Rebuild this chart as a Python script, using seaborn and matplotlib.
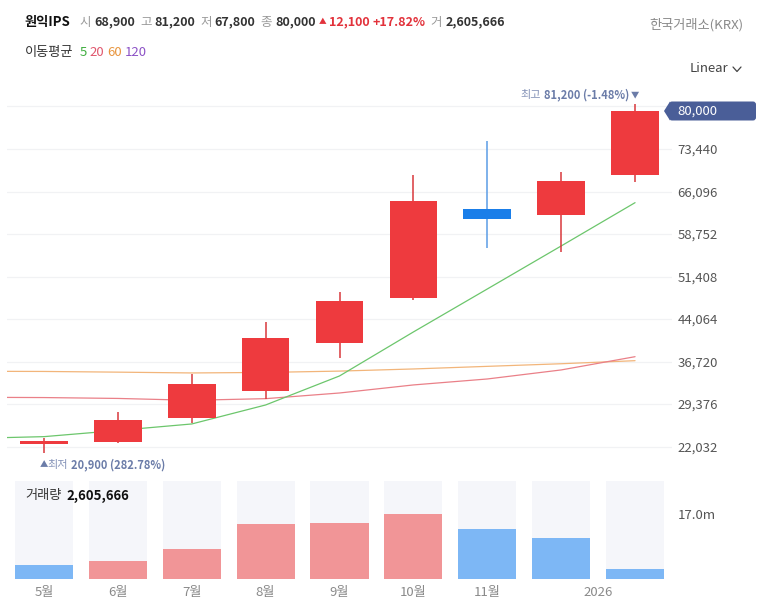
import numpy as np
import pandas as pd
import matplotlib
matplotlib.use("Agg")
import matplotlib.pyplot as plt
import matplotlib.transforms as mtransforms
from matplotlib.patches import Polygon, FancyBboxPatch
from matplotlib.lines import Line2D
import seaborn as sns

# ---------------- data ----------------
month_labels = ["5월", "6월", "7월", "8월", "9월", "10월", "11월"]
year_label = "2026"
opens = [22500, 22900, 27050, 31700, 40000, 47700, 63100, 62000, 68900]
highs = [23600, 28000, 34600, 43500, 48800, 68950, 74750, 69500, 81200]
lows = [20900, 22600, 26100, 30200, 37300, 47350, 56300, 55600, 67800]
closes = [23000, 26650, 32900, 40850, 47200, 64450, 61400, 67900, 80000]
volumes = [3.74e6, 4.71e6, 8.0e6, 14.46e6, 14.8e6, 17.0e6, 13.23e6, 10.88e6, 2605666]
volume_dir = ["down", "up", "up", "up", "up", "up", "down", "down", "down"]

# moving averages (first point = previous month, partly off-chart)
ma5 = [23450, 23760, 24830, 25950, 29230, 34240, 41840, 49260, 56690, 64170]
ma20 = [30560, 30510, 30360, 30040, 30320, 31300, 32690, 33720, 35280, 37570]
ma60 = [35050, 35020, 34900, 34760, 34850, 35080, 35450, 35900, 36350, 36880]

price_ticks = [22032, 29376, 36720, 44064, 51408, 58752, 66096, 73440, 80784]
price_tick_labels = ["22,032", "29,376", "36,720", "44,064", "51,408", "58,752",
                     "66,096", "73,440", ""]
vol_ticks = [17.0e6]
vol_tick_labels = ["17.0m"]

# ---------------- style ----------------
sns.set_theme(style="white")
plt.rcParams["font.family"] = ["Noto Sans CJK KR", "DejaVu Sans"]

W, H = 763, 616
fig = plt.figure(figsize=(W / 100, H / 100), dpi=100)
fig.patch.set_facecolor("white")
renderer = fig.canvas.get_renderer()


def px_axes(left, top, right, bottom):
    return fig.add_axes([left / W, 1 - bottom / H, (right - left) / W, (bottom - top) / H])


RED = "#ee3a3e"
RED_WICK = "#d9383c"
BLUE = "#1a7ee9"
BLUE_WICK = "#5b9de6"
VOL_RED = "#f19597"
VOL_BLUE = "#7db7f5"
COL_BG = "#f5f6fa"
ANN_DARK = "#6b7ca8"
ANN_LIGHT = "#8593b8"

n = len(opens)
x = np.arange(n)


def ftext(xp, yp, s, **kw):
    return fig.text(xp / W, 1 - yp / H, s, va="center", ha=kw.pop("ha", "left"), **kw)


def chain(x0, yp, pieces):
    """pieces: list of (gap_before_px, text, props)"""
    xp = x0
    for gap, s, props in pieces:
        xp += gap
        t = ftext(xp, yp, s, **props)
        bb = t.get_window_extent(renderer=renderer)
        xp = bb.x1
    return xp


# ---------------- price panel ----------------
ax = px_axes(7, 100, 672, 470)
ax.set_xlim(-0.5, n - 0.5)
ax.set_ylim(18000, 81900)
for s in ax.spines.values():
    s.set_visible(False)

for t in price_ticks:
    ax.axhline(t, color="#f1f2f4", lw=0.9, zorder=0)

ma_x = np.arange(-1, n)
sns.lineplot(x=ma_x, y=ma60, ax=ax, color="#f2b57a", lw=0.9, zorder=2)
sns.lineplot(x=ma_x, y=ma20, ax=ax, color="#ea8088", lw=0.9, zorder=2)
sns.lineplot(x=ma_x, y=ma5, ax=ax, color="#6cc66c", lw=0.9, zorder=2)

for i in range(n):
    up = closes[i] >= opens[i]
    body_c = RED if up else BLUE
    wick_c = RED_WICK if up else BLUE_WICK
    ax.vlines(x[i], lows[i], highs[i], color=wick_c, lw=1.1, zorder=3)
    lo, hi = min(opens[i], closes[i]), max(opens[i], closes[i])
    ax.bar(x[i], hi - lo, bottom=lo, width=0.645, color=body_c, zorder=4, linewidth=0)

ax.set_xticks([])
ax.yaxis.tick_right()
ax.set_yticks(price_ticks)
ax.set_yticklabels(price_tick_labels)
ax.tick_params(axis="y", length=0, pad=4, labelsize=9.5, labelcolor="#555555")
ax.set_ylabel("")
ax.set_xlabel("")

# ---------------- volume panel ----------------
axv = px_axes(7, 481, 672, 579.3)
vol_top = 25.7e6
axv.bar(x, [vol_top] * n, width=0.785, color=COL_BG, zorder=0, linewidth=0)
vdf = pd.DataFrame({"idx": x, "vol": volumes, "dir": volume_dir})
sns.barplot(data=vdf, x="idx", y="vol", hue="dir", palette={"up": VOL_RED, "down": VOL_BLUE},
            dodge=False, width=0.785, saturation=1, legend=False, ax=axv, zorder=2,
            linewidth=0)
axv.set_xlim(-0.5, n - 0.5)
axv.set_ylim(0, vol_top)
for s in axv.spines.values():
    s.set_visible(False)
axv.set_xticks(list(range(len(month_labels))) + [7.5])
axv.set_xticklabels(month_labels + [year_label])
axv.tick_params(axis="x", length=0, pad=5, labelsize=9.5, labelcolor="#8a8a8a")
axv.yaxis.tick_right()
axv.set_yticks(vol_ticks)
axv.set_yticklabels(vol_tick_labels)
axv.tick_params(axis="y", length=0, pad=4, labelsize=9.5, labelcolor="#555555")
axv.set_xlabel("")
axv.set_ylabel("")

fig.canvas.draw()

# volume caption
chain(25, 495.7, [
    (0, "거래량", dict(fontsize=9.5, color="#333333")),
    (5, f"{volumes[-1]:,}", dict(fontsize=9.5, color="#111111", fontweight="bold")),
])

# ---------------- high / low annotations ----------------
ihi = int(np.argmax(highs))
ilo = int(np.argmin(lows))
last = closes[-1]
hi_pct = (last - highs[ihi]) / highs[ihi] * 100
lo_pct = (last - lows[ilo]) / lows[ilo] * 100

hx, hy = ax.transData.transform((x[ihi], highs[ihi]))
hy_top = H - hy - 9.5
ftext(hx, hy_top, "▼", fontsize=6, color=ANN_DARK, ha="center")
num_hi = ftext(hx - 6, hy_top, f"{highs[ihi]:,} ({hi_pct:.2f}%)", fontsize=8,
               color=ANN_DARK, fontweight="bold", ha="right")
bb = num_hi.get_window_extent(renderer=renderer)
ftext(bb.x0 - 3, hy_top, "최고", fontsize=8, color=ANN_LIGHT, ha="right")

lx, ly = ax.transData.transform((x[ilo], lows[ilo]))
ly_bot = H - ly + 11.5
ftext(lx, ly_bot, "▲", fontsize=6, color=ANN_DARK, ha="center")
chain(lx + 3, ly_bot, [
    (0, "최저", dict(fontsize=8, color=ANN_LIGHT)),
    (4, f"{lows[ilo]:,} ({lo_pct:.2f}%)", dict(fontsize=8, color=ANN_DARK,
                                               fontweight="bold")),
])

# ---------------- current price tag ----------------
yc = ax.transData.transform((0, closes[-1]))[1]
hh = 9.5
tag_col = "#4a5e98"
tri = Polygon([(664, yc), (670, yc + hh), (670, yc - hh)], closed=True,
              facecolor=tag_col, edgecolor="none", transform=mtransforms.IdentityTransform())
box = FancyBboxPatch((669, yc - hh), 87, 2 * hh, boxstyle="round,pad=0,rounding_size=3",
                     facecolor=tag_col, edgecolor="none",
                     transform=mtransforms.IdentityTransform())
fig.patches.extend([box, tri])
fig.text(677 / W, yc / H, f"{closes[-1]:,}", ha="left", va="center", fontsize=9.5,
         color="white")

# ---------------- header ----------------
HY = 22.3
GRAY = "#9a9a9a"
NUM = "#333333"
HRED = "#e2323b"
lab = dict(fontsize=9, color=GRAY)
num = dict(fontsize=9, color=NUM, fontweight="bold")
red = dict(fontsize=9, color=HRED, fontweight="bold")
chg = closes[-1] - closes[-2]
chain(25, HY, [
    (0, "원익IPS", dict(fontsize=9.5, fontweight="bold", color="#111111")),
    (9, "시", lab), (3, f"{opens[-1]:,}", num),
    (5, "고", lab), (3, f"{highs[-1]:,}", num),
    (5, "저", lab), (3, f"{lows[-1]:,}", num),
    (5, "종", lab), (3, f"{closes[-1]:,}", num),
    (3, "▲", dict(fontsize=5.5, color=HRED)), (3, f"{chg:,}", red),
    (3, f"+{chg / closes[-2] * 100:.2f}%", red),
    (5, "거", lab), (3, f"{volumes[-1]:,}", num),
])
ftext(743, 25, "한국거래소(KRX)", fontsize=9.5, color="#8a8a8a", ha="right")

LY = 52.7
chain(25, LY, [
    (0, "이동평균", dict(fontsize=9.5, color="#333333")),
    (6, "5", dict(fontsize=9.5, color="#3fae3f")),
    (3, "20", dict(fontsize=9.5, color="#e0566d")),
    (3, "60", dict(fontsize=9.5, color="#e8943c")),
    (3, "120", dict(fontsize=9.5, color="#8c52c6")),
])

ftext(690, 69, "Linear", fontsize=9.5, color="#444444")
fig.add_artist(Line2D([733 / W, 737 / W, 741 / W],
                      [1 - 67 / H, 1 - 71.5 / H, 1 - 67 / H],
                      transform=fig.transFigure, color="#444444", lw=0.9))

fig.savefig("out.png", dpi=100, facecolor="white")
